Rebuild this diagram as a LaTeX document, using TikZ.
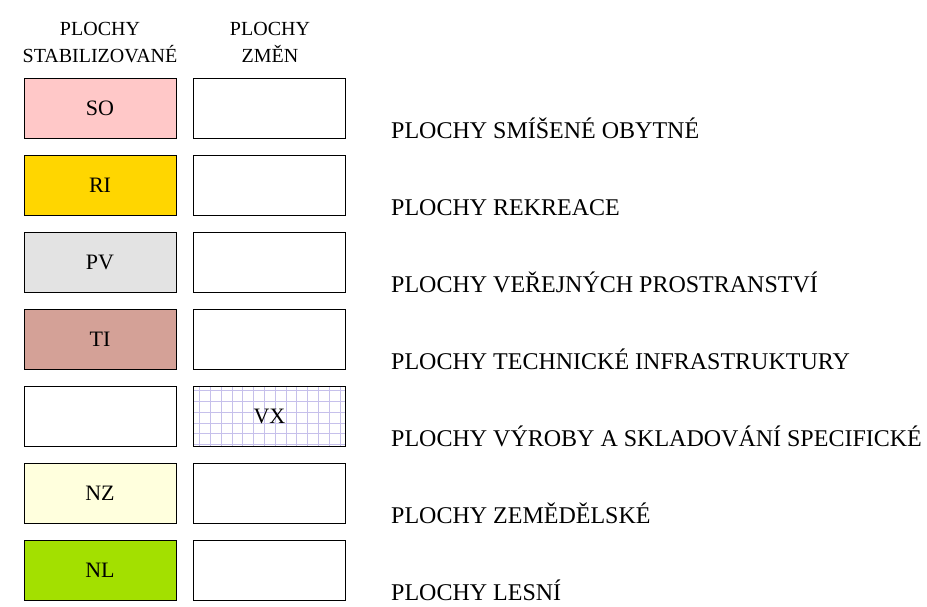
\documentclass[tikz,border=0pt]{standalone}
\usepackage{fontspec}
\setmainfont{Liberation Serif}
\definecolor{soPink}{RGB}{255,200,200}
\definecolor{riGold}{RGB}{255,214,0}
\definecolor{pvGray}{RGB}{227,227,227}
\definecolor{tiBrown}{RGB}{212,161,151}
\definecolor{nzCream}{RGB}{255,255,221}
\definecolor{nlGreen}{RGB}{163,224,0}
\definecolor{vxLilac}{RGB}{198,192,235}
\tikzset{
  legbox/.style={rectangle,draw,line width=0.9pt,minimum width=152pt,minimum height=60pt,inner sep=0pt,font=\fontsize{22}{22}\selectfont},
  legtext/.style={anchor=base west,inner sep=0pt,font=\fontsize{24}{24}\selectfont},
  headtext/.style={align=center,inner sep=0pt,anchor=base,font=\fontsize{20}{27}\selectfont},
  vxgrid/.style={draw=vxLilac,line width=0.9pt}
}
\begin{document}
\begin{tikzpicture}[x=1pt,y=-1pt]
            \useasboundingbox (0,0) rectangle (927,606);
            \draw (100,62) node (hstab) [headtext] {PLOCHY\\STABILIZOVANÉ};
            \draw (270,62) node (hzmen) [headtext] {PLOCHY\\ZMĚN};

            \draw (100,108) node (so) [legbox,fill=soPink] {SO};
            \draw (100,185) node (ri) [legbox,fill=riGold] {RI};
            \draw (100,262) node (pv) [legbox,fill=pvGray] {PV};
            \draw (100,339) node (ti) [legbox,fill=tiBrown] {TI};
            \draw (100,416) node (vxs) [legbox] {};
            \draw (100,493) node (nz) [legbox,fill=nzCream] {NZ};
            \draw (100,570) node (nl) [legbox,fill=nlGreen] {NL};

            \draw (269.5,108) node (soz) [legbox] {};
            \draw (269.5,185) node (riz) [legbox] {};
            \draw (269.5,262) node (pvz) [legbox] {};
            \draw (269.5,339) node (tiz) [legbox] {};
            \draw (269.5,416) node (vx) [legbox,path picture={\draw[vxgrid] (path picture bounding box.south west) grid[xstep=10.8pt,ystep=10.8pt] (path picture bounding box.north east);}] {VX};
            \draw (269.5,493) node (nzz) [legbox] {};
            \draw (269.5,570) node (nlz) [legbox] {};

            \draw (391,138) node (lso) [legtext] {PLOCHY SMÍŠENÉ OBYTNÉ};
            \draw (391,215) node (lri) [legtext] {PLOCHY REKREACE};
            \draw (391,292) node (lpv) [legtext] {PLOCHY VEŘEJNÝCH PROSTRANSTVÍ};
            \draw (391,369) node (lti) [legtext] {PLOCHY TECHNICKÉ INFRASTRUKTURY};
            \draw (391,446) node (lvx) [legtext] {PLOCHY VÝROBY A SKLADOVÁNÍ SPECIFICKÉ};
            \draw (391,523) node (lnz) [legtext] {PLOCHY ZEMĚDĚLSKÉ};
            \draw (391,600) node (lnl) [legtext] {PLOCHY LESNÍ};
        \end{tikzpicture}
\end{document}
